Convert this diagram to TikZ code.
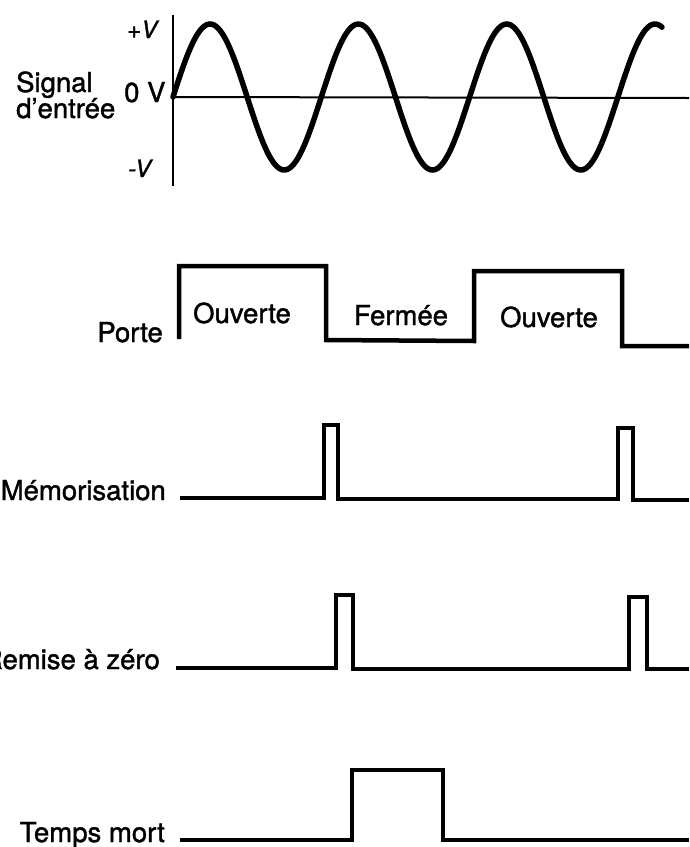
\documentclass[tikz,border=0pt]{standalone}
\usepackage{fontspec}
\setmainfont{TeX Gyre Heros}
\newfontfamily\lblfont{TeX Gyre Heros}[FakeBold=1.4]
\usepackage{tikz}

\begin{document}
\begin{tikzpicture}[
  x=1pt, y=-1pt,
  every node/.style={font=\lblfont\fontsize{27.5}{30}\selectfont, inner sep=0pt},
  lbl/.style={anchor=base east},
  lvl/.style={font=\lblfont\fontsize{24}{28}\selectfont\itshape, anchor=base west},
  state/.style={anchor=base},
  sine/.style={line width=5.5pt, line cap=round},
  axis/.style={line width=2pt},
  wave/.style={line width=4.5pt}
]
\useasboundingbox (0,0) rectangle (689,847);
% signal d'entree
\node[anchor=base west] (sigA) at (16,92) {Signal};
\node[anchor=base west] (sigB) at (16,118) {d’entrée};
\node[anchor=base west] (zero) at (124,102) {0 V};
\node[lvl] (plusV) at (127,38) {+V};
\node[lvl] (minusV) at (128,177) {-V};
\draw[axis] (173,15) -- (173,186);
\draw[axis] (173,97) -- (689,98);
\draw[sine] plot[domain=0:489, samples=240, smooth]
  ({173+\x}, {97-73*sin(\x/148.3*360)});
% porte
\node[lbl] (porte) at (163,342) {Porte};
\draw[wave] (179,339) -- (179,266) -- (326,266) -- (326,340) -- (474,341)
  -- (474,271) -- (622,271) -- (622,346) -- (689,346);
\node[state] (ouvA) at (242,323) {Ouverte};
\node[state] (ferm) at (401,325) {Fermée};
\node[state] (ouvB) at (549,327) {Ouverte};
% memorisation
\node[lbl] (memo) at (166,500) {Mémorisation};
\draw[wave] (180,498) -- (324,498) -- (324,425) -- (338,425) -- (338,499)
  -- (618,499) -- (618,428) -- (633,428) -- (633,500) -- (689,500);
% remise a zero
\node[lbl] (raz) at (160,669) {Remise à zéro};
\draw[wave] (176,668) -- (336,668) -- (336,595) -- (353,595) -- (353,669)
  -- (629,669) -- (629,597) -- (647,597) -- (647,669) -- (689,669);
% temps mort
\node[lbl] (mort) at (165,842) {Temps mort};
\draw[wave] (180,840) -- (352,840) -- (352,770) -- (443,770) -- (443,840)
  -- (689,840);
\end{tikzpicture}
\end{document}
